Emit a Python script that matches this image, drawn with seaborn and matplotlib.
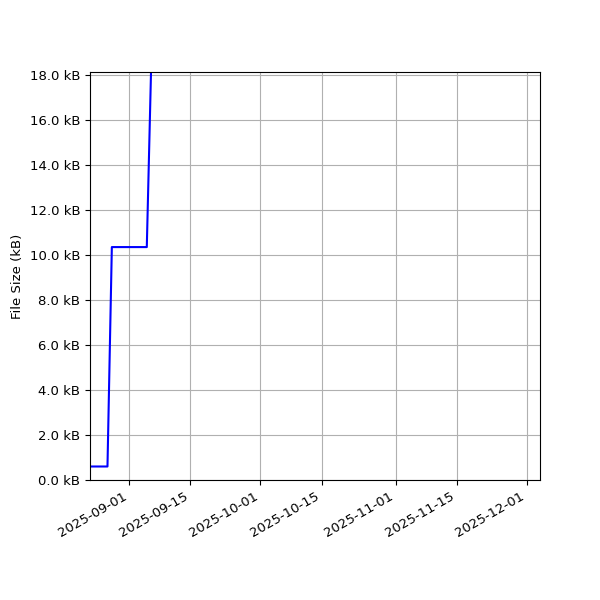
import matplotlib
matplotlib.use("Agg")
import matplotlib.pyplot as plt
import matplotlib.dates as mdates
from matplotlib.ticker import FuncFormatter, MultipleLocator
import seaborn as sns
import pandas as pd

dates = ["2025-08-23", "2025-08-27", "2025-08-28", "2025-09-05", "2025-09-06", "2025-12-04"]
sizes_kb = [0.6, 0.6, 10.35, 10.35, 18.4, 18.4]

df = pd.DataFrame({"date": pd.to_datetime(dates), "size": sizes_kb})

plt.rcParams["font.size"] = 9.5

fig, ax = plt.subplots(figsize=(6, 6), dpi=100)
fig.subplots_adjust(left=0.15, right=0.9, top=0.88, bottom=0.2)
sns.lineplot(data=df, x="date", y="size", ax=ax, color="blue", linewidth=1.5)
ax.set_xlim(pd.Timestamp("2025-08-23"), pd.Timestamp("2025-12-04"))
ax.set_ylim(0, 18.13)
ax.yaxis.set_major_locator(MultipleLocator(2))
ax.yaxis.set_major_formatter(FuncFormatter(lambda v, p: f"{v:.1f} kB"))
ax.xaxis.set_major_formatter(mdates.DateFormatter("%Y-%m-%d"))
ax.set_xlabel("")
ax.set_ylabel("File Size (kB)")
ax.grid(True)
for lab in ax.get_xticklabels():
    lab.set_rotation(30)
    lab.set_ha("right")
fig.savefig("out.png", dpi=100)
